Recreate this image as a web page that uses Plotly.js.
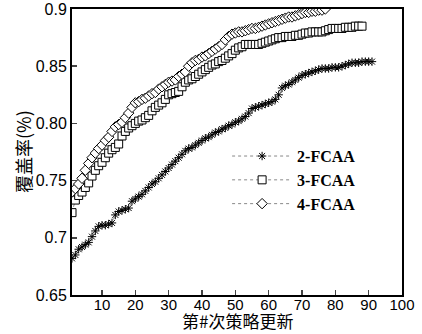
<!DOCTYPE html>
<html>
<head>
<meta charset="utf-8">
<script src="https://cdn.plot.ly/plotly-3.0.1.min.js"></script>
<style>html,body{margin:0;padding:0;background:#fff;}#chart{width:422px;height:334px;}</style>
</head>
<body>
<div id="chart"></div>
<script>
const seriesNames = ["2-FCAA", "3-FCAA", "4-FCAA"];
const fcaa2 = [0.682,0.685,0.690,0.692,0.694,0.696,0.701,0.706,0.710,0.711,
0.711,0.712,0.713,0.720,0.723,0.724,0.725,0.726,0.732,0.734,
0.736,0.738,0.741,0.744,0.747,0.749,0.752,0.755,0.758,0.761,
0.764,0.767,0.770,0.773,0.776,0.778,0.779,0.781,0.783,0.785,
0.787,0.788,0.790,0.792,0.793,0.795,0.796,0.798,0.799,0.801,
0.802,0.804,0.806,0.809,0.813,0.814,0.815,0.816,0.817,0.818,
0.819,0.821,0.825,0.831,0.833,0.834,0.836,0.838,0.840,0.842,
0.843,0.844,0.845,0.846,0.847,0.848,0.848,0.848,0.849,0.849,
0.849,0.850,0.851,0.852,0.853,0.853,0.853,0.854,0.854,0.854,0.854];
const fcaa3 = [0.722,0.733,0.737,0.740,0.744,0.748,0.754,0.759,0.763,0.766,
0.770,0.774,0.777,0.779,0.782,0.789,0.793,0.796,0.798,0.800,
0.802,0.803,0.805,0.807,0.811,0.814,0.816,0.818,0.821,0.825,
0.826,0.827,0.828,0.832,0.836,0.838,0.839,0.841,0.843,0.845,
0.847,0.849,0.851,0.852,0.854,0.855,0.857,0.859,0.861,0.864,
0.866,0.867,0.869,0.869,0.869,0.869,0.869,0.870,0.871,0.872,
0.873,0.874,0.875,0.875,0.876,0.876,0.876,0.877,0.877,0.878,
0.879,0.879,0.880,0.880,0.880,0.880,0.881,0.882,0.883,0.883,
0.883,0.883,0.884,0.884,0.884,0.885,0.885,0.885];
const fcaa4 = [0.740,0.743,0.747,0.752,0.759,0.765,0.770,0.774,0.778,0.781,
0.785,0.788,0.793,0.797,0.799,0.801,0.805,0.809,0.814,0.818,
0.819,0.821,0.822,0.824,0.826,0.827,0.830,0.832,0.834,0.836,
0.837,0.838,0.841,0.843,0.845,0.850,0.853,0.855,0.856,0.858,
0.859,0.861,0.863,0.865,0.867,0.869,0.873,0.876,0.878,0.879,
0.880,0.880,0.881,0.882,0.883,0.883,0.884,0.885,0.886,0.887,
0.888,0.889,0.890,0.891,0.892,0.893,0.893,0.894,0.895,0.896,
0.897,0.897,0.898,0.898,0.899,0.899,0.900];
const xTickVals = [10,20,30,40,50,60,70,80,90,100];
const yTickVals = [0.65,0.7,0.75,0.8,0.85,0.9];
const yTickText = ["0.65","0.7","0.75","0.80","0.85","0.9"];
const xTitle = '第#次策略更新';
const yTitle = '覆盖率(%)';

const idx = arr => arr.map((_, i) => i + 1);
const symbols = ["asterisk-open", "square", "diamond"];
const sizes = [7, 8, 8];
const all = [fcaa2, fcaa3, fcaa4];

const traces = all.map((ys, k) => ({
  x: idx(ys), y: ys, name: seriesNames[k], type: 'scatter', mode: 'lines+markers',
  line: {color: '#888', width: 1, dash: 'dot'},
  marker: {symbol: symbols[k], size: sizes[k], color: k === 0 ? '#000' : '#fff',
           line: {color: '#000', width: 1}}
}));

const layout = {
  width: 422, height: 334,
  margin: {l: 72, r: 20, t: 9, b: 39},
  paper_bgcolor: '#fff', plot_bgcolor: '#fff',
  font: {family: 'Liberation Sans, Arial, sans-serif', color: '#000', size: 16},
  showlegend: true,
  legend: {x: 0.47, y: 0.545, xanchor: 'left', yanchor: 'top', bgcolor: 'rgba(0,0,0,0)',
           font: {family: 'Liberation Serif, Times New Roman, serif', size: 16, weight: 'bold'},
           itemwidth: 60, tracegroupgap: 0},
  xaxis: {range: [1, 100], tickvals: xTickVals, ticks: 'inside', ticklen: 5, tickwidth: 1.5,
          showline: true, linewidth: 2, linecolor: '#000', mirror: true, showgrid: false, zeroline: false,
          ticklabelstandoff: -5, tickfont: {size: 15}},
  yaxis: {range: [0.65, 0.9], tickvals: yTickVals, ticktext: yTickText, ticks: 'inside', ticklen: 5, tickwidth: 1.5,
          showline: true, linewidth: 2, linecolor: '#000', mirror: true, showgrid: false, zeroline: false,
          tickfont: {size: 16}},
  annotations: [
    {text: xTitle, xref: 'paper', yref: 'paper', x: 0.5, y: -39/286, xanchor: 'center', yanchor: 'bottom',
     showarrow: false, borderpad: 0, font: {family: 'Noto Sans CJK SC', size: 17, color: '#000'}},
    {text: yTitle, xref: 'paper', yref: 'paper', x: -72/330, y: 0.5, xshift: 9, textangle: -90,
     xanchor: 'left', yanchor: 'middle', showarrow: false, borderpad: 0,
     font: {family: 'Noto Sans CJK SC', size: 18, color: '#000'}}
  ]
};
Plotly.newPlot('chart', traces, layout, {displayModeBar: false, staticPlot: true});
</script>
</body>
</html>
